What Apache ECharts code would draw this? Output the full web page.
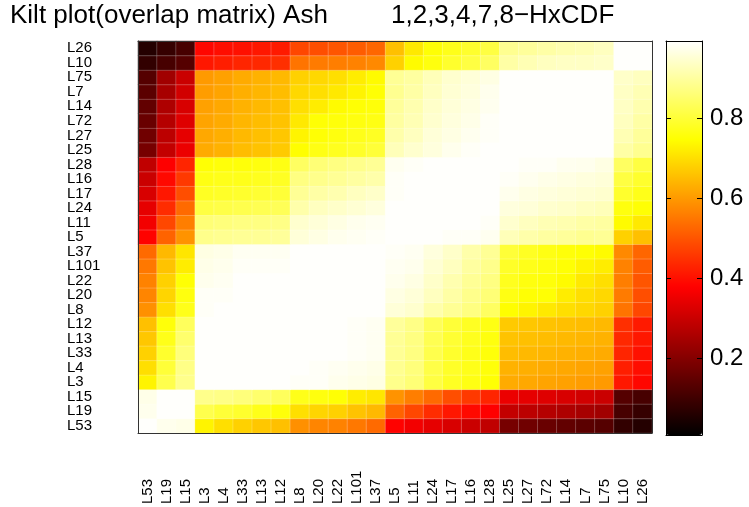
<!DOCTYPE html>
<html>
<head>
<meta charset="utf-8">
<script src="https://cdn.jsdelivr.net/npm/echarts@6/dist/echarts.min.js"></script>
<style>
    html, body { margin: 0; padding: 0; background: #fff; }
    #kilt { width: 749px; height: 507px; }
</style>
</head>
<body>
<div id="kilt"></div>
<script>
// order of the matrix rows/cols (x left->right, y bottom->top)
var labels = ['L53','L19','L15','L3','L4','L33','L13','L12','L8','L20','L22','L101','L37',
    'L5','L11','L24','L17','L16','L28','L25','L27','L72','L14','L7','L75','L10','L26'];

// overlap matrix, overlap[i][j] -> row labels[i], column labels[j]
var overlap = [
    [0.99,0.975,0.97, 0.73,0.70,0.68,0.665,0.655,0.585,0.57,0.565,0.55,0.53, 0.38,0.36,0.34,0.32,0.30,0.285, 0.18,0.17,0.16,0.15,0.14,0.13, 0.08,0.06],
    [0.975,0.99,0.99, 0.82,0.80,0.79,0.77,0.755,0.70,0.685,0.68,0.66,0.645, 0.52,0.48,0.44,0.41,0.39,0.375, 0.29,0.28,0.27,0.26,0.25,0.24, 0.11,0.085],
    [0.97,0.99,0.99, 0.88,0.875,0.865,0.85,0.835,0.77,0.76,0.75,0.72,0.71, 0.59,0.56,0.53,0.49,0.46,0.43, 0.35,0.34,0.33,0.32,0.31,0.30, 0.13,0.11],
    [0.73,0.82,0.88, 0.99,0.99,0.99,0.99,0.99,0.985,0.985,0.975,0.97,0.965, 0.88,0.86,0.81,0.78,0.765,0.75, 0.625,0.62,0.615,0.61,0.605,0.60, 0.41,0.385],
    [0.70,0.80,0.875, 0.99,0.99,0.99,0.99,0.99,0.99,0.985,0.98,0.975,0.97, 0.885,0.865,0.815,0.785,0.77,0.755, 0.635,0.63,0.625,0.62,0.615,0.61, 0.42,0.395],
    [0.68,0.79,0.865, 0.99,0.99,0.99,0.99,0.99,0.99,0.99,0.99,0.985,0.98, 0.89,0.87,0.82,0.79,0.77,0.755, 0.65,0.645,0.64,0.635,0.63,0.625, 0.43,0.40],
    [0.665,0.77,0.85, 0.99,0.99,0.99,0.99,0.99,0.99,0.99,0.99,0.985,0.98, 0.89,0.87,0.825,0.795,0.775,0.76, 0.66,0.655,0.65,0.645,0.64,0.635, 0.435,0.41],
    [0.655,0.755,0.835, 0.99,0.99,0.99,0.99,0.99,0.99,0.99,0.99,0.985,0.98, 0.895,0.875,0.83,0.80,0.78,0.765, 0.67,0.665,0.66,0.655,0.65,0.645, 0.445,0.415],
    [0.585,0.70,0.77, 0.985,0.99,0.99,0.99,0.99,0.99,0.99,0.99,0.99,0.99, 0.955,0.945,0.91,0.89,0.87,0.84, 0.745,0.73,0.715,0.70,0.69,0.68, 0.545,0.48],
    [0.57,0.685,0.76, 0.985,0.985,0.99,0.99,0.99,0.99,0.99,0.99,0.99,0.99, 0.965,0.955,0.93,0.905,0.88,0.86, 0.765,0.75,0.75,0.72,0.70,0.69, 0.555,0.49],
    [0.565,0.68,0.75, 0.975,0.98,0.99,0.99,0.99,0.99,0.99,0.99,0.99,0.99, 0.975,0.965,0.94,0.915,0.89,0.87, 0.775,0.76,0.755,0.74,0.715,0.70, 0.56,0.50],
    [0.55,0.66,0.72, 0.97,0.975,0.985,0.985,0.985,0.99,0.99,0.99,0.99,0.99, 0.98,0.975,0.95,0.93,0.90,0.88, 0.785,0.77,0.76,0.75,0.73,0.72, 0.565,0.51],
    [0.53,0.645,0.71, 0.965,0.97,0.98,0.98,0.98,0.99,0.99,0.99,0.99,0.99, 0.985,0.98,0.96,0.94,0.91,0.89, 0.80,0.78,0.765,0.755,0.75,0.74, 0.575,0.525],
    [0.38,0.52,0.59, 0.88,0.885,0.89,0.89,0.895,0.955,0.965,0.975,0.98,0.985, 0.99,0.99,0.99,0.985,0.985,0.978, 0.925,0.91,0.90,0.895,0.885,0.89, 0.68,0.655],
    [0.36,0.48,0.56, 0.86,0.865,0.87,0.87,0.875,0.945,0.955,0.965,0.975,0.98, 0.99,0.99,0.99,0.99,0.99,0.985, 0.945,0.93,0.92,0.915,0.905,0.90, 0.74,0.715],
    [0.34,0.44,0.53, 0.81,0.815,0.82,0.825,0.83,0.91,0.93,0.94,0.95,0.96, 0.99,0.99,0.99,0.99,0.99,0.99, 0.96,0.955,0.945,0.94,0.93,0.925, 0.76,0.75],
    [0.32,0.41,0.49, 0.78,0.785,0.79,0.795,0.80,0.89,0.905,0.915,0.93,0.94, 0.985,0.99,0.99,0.99,0.99,0.99, 0.975,0.965,0.96,0.955,0.95,0.945, 0.79,0.77],
    [0.30,0.39,0.46, 0.765,0.77,0.77,0.775,0.78,0.87,0.88,0.89,0.90,0.91, 0.985,0.99,0.99,0.99,0.99,0.99, 0.985,0.977,0.97,0.965,0.96,0.955, 0.81,0.79],
    [0.285,0.375,0.43, 0.75,0.755,0.755,0.76,0.765,0.84,0.86,0.87,0.88,0.89, 0.978,0.985,0.99,0.99,0.99,0.99, 0.99,0.985,0.985,0.977,0.975,0.965, 0.84,0.81],
    [0.18,0.29,0.35, 0.625,0.635,0.65,0.66,0.67,0.745,0.765,0.775,0.785,0.80, 0.925,0.945,0.96,0.975,0.985,0.99, 0.99,0.99,0.99,0.99,0.99,0.99, 0.905,0.885],
    [0.17,0.28,0.34, 0.62,0.63,0.645,0.655,0.665,0.73,0.75,0.76,0.77,0.78, 0.91,0.93,0.955,0.965,0.977,0.985, 0.99,0.99,0.99,0.99,0.99,0.99, 0.92,0.895],
    [0.16,0.27,0.33, 0.615,0.625,0.64,0.65,0.66,0.715,0.75,0.755,0.76,0.765, 0.90,0.92,0.945,0.96,0.97,0.985, 0.99,0.99,0.99,0.99,0.99,0.99, 0.93,0.905],
    [0.15,0.26,0.32, 0.61,0.62,0.635,0.645,0.655,0.70,0.72,0.74,0.75,0.755, 0.895,0.915,0.94,0.955,0.965,0.977, 0.99,0.99,0.99,0.99,0.99,0.99, 0.935,0.915],
    [0.14,0.25,0.31, 0.605,0.615,0.63,0.64,0.65,0.69,0.70,0.715,0.73,0.75, 0.885,0.905,0.93,0.95,0.96,0.975, 0.99,0.99,0.99,0.99,0.99,0.99, 0.935,0.92],
    [0.13,0.24,0.30, 0.60,0.61,0.625,0.635,0.645,0.68,0.69,0.70,0.72,0.74, 0.89,0.90,0.925,0.945,0.955,0.965, 0.99,0.99,0.99,0.99,0.99,0.99, 0.94,0.93],
    [0.08,0.11,0.13, 0.41,0.42,0.43,0.435,0.445,0.545,0.555,0.56,0.565,0.575, 0.68,0.74,0.76,0.79,0.81,0.84, 0.905,0.92,0.93,0.935,0.935,0.94, 0.99,0.99],
    [0.06,0.085,0.11, 0.385,0.395,0.40,0.41,0.415,0.48,0.49,0.50,0.51,0.525, 0.655,0.715,0.75,0.77,0.79,0.81, 0.885,0.895,0.905,0.915,0.92,0.93, 0.99,0.99]
];

// colour scale range and colorbar ticks
var scaleMin = 0.0075;
var scaleMax = 0.9925;
var colorbarTicks = [0.2, 0.4, 0.6, 0.8];

var font = "'Liberation Sans', Arial, Helvetica, sans-serif";

window.onload = function () {
    kiltChart();
};

function kiltChart() {
    var chart = echarts.init(document.getElementById('kilt'), null, {renderer: 'canvas'});

    var cells = [];
    for (var i = 0; i < overlap.length; i++) {
        for (var j = 0; j < overlap[i].length; j++) {
            cells.push([j, i, overlap[i][j]]);
        }
    }

    // matlab "hot" colormap
    var hot = ['#000000', '#550000', '#aa0000', '#ff0000', '#ff5500', '#ffaa00', '#ffff00', '#ffff80', '#ffffff'];

    var edge = {show: true, onZero: false, lineStyle: {color: '#333', width: 1}};
    var barEdge = {show: true, onZero: false, lineStyle: {color: '#000', width: 1}};

    var option = {
        backgroundColor: '#fff',
        animation: false,
        title: [{
            text: 'Kilt plot(overlap matrix) Ash',
            left: 10,
            top: 3,
            padding: 0,
            textStyle: {fontSize: 26, fontWeight: 'normal', color: '#000', fontFamily: font}
        }, {
            text: '1,2,3,4,7,8\u2212HxCDF',
            left: 391,
            top: 3,
            padding: 0,
            textStyle: {fontSize: 26, fontWeight: 'normal', color: '#000', fontFamily: font}
        }],
        grid: [
            {left: 138, top: 41, width: 514, height: 393},
            {left: 666, top: 41, width: 36, height: 394}
        ],
        xAxis: [{
            gridIndex: 0,
            type: 'category',
            data: labels,
            position: 'bottom',
            z: 5,
            axisLine: edge,
            axisTick: {show: false},
            splitLine: {show: false},
            axisLabel: {
                interval: 0,
                rotate: 90,
                align: 'left',
                margin: 71,
                fontSize: 15,
                color: '#000',
                fontFamily: font
            }
        }, {
            gridIndex: 0,
            type: 'category',
            data: labels,
            position: 'top',
            z: 5,
            axisLine: edge,
            axisTick: {show: false},
            axisLabel: {show: false}
        }, {
            gridIndex: 1,
            type: 'value',
            min: 0,
            max: 1,
            position: 'bottom',
            z: 10,
            axisLine: barEdge,
            axisTick: {show: false},
            axisLabel: {show: false},
            splitLine: {show: false}
        }, {
            gridIndex: 1,
            type: 'value',
            min: 0,
            max: 1,
            position: 'top',
            z: 10,
            axisLine: barEdge,
            axisTick: {show: false},
            axisLabel: {show: false},
            splitLine: {show: false}
        }],
        yAxis: [{
            gridIndex: 0,
            type: 'category',
            data: labels,
            position: 'left',
            z: 5,
            axisLine: edge,
            axisTick: {show: false},
            splitLine: {show: false},
            axisLabel: {
                interval: 0,
                align: 'left',
                margin: 71,
                fontSize: 15,
                color: '#000',
                fontFamily: font
            }
        }, {
            gridIndex: 0,
            type: 'category',
            data: labels,
            position: 'right',
            z: 5,
            axisLine: edge,
            axisTick: {show: false},
            axisLabel: {show: false}
        }, {
            gridIndex: 1,
            type: 'value',
            min: scaleMin,
            max: scaleMax,
            position: 'right',
            z: 10,
            axisLine: barEdge,
            splitLine: {show: false},
            axisTick: {inside: true, length: 5, customValues: colorbarTicks, lineStyle: {color: '#000'}},
            axisLabel: {
                customValues: colorbarTicks,
                margin: 8,
                fontSize: 24,
                color: '#000',
                fontFamily: font
            }
        }, {
            gridIndex: 1,
            type: 'value',
            min: scaleMin,
            max: scaleMax,
            position: 'left',
            z: 10,
            axisLine: barEdge,
            splitLine: {show: false},
            axisTick: {inside: true, length: 5, customValues: colorbarTicks, lineStyle: {color: '#000'}},
            axisLabel: {show: false}
        }],
        visualMap: {
            type: 'continuous',
            seriesIndex: 0,
            min: scaleMin,
            max: scaleMax,
            calculable: false,
            hoverLink: false,
            orient: 'vertical',
            left: 666,
            top: 41,
            padding: 0,
            itemWidth: 36,
            itemHeight: 394,
            inRange: {color: hot}
        },
        series: [{
            type: 'heatmap',
            xAxisIndex: 0,
            yAxisIndex: 0,
            data: cells,
            itemStyle: {
                borderColor: 'rgba(255,255,255,0.28)',
                borderWidth: 0.8
            },
            emphasis: {disabled: true}
        }]
    };

    chart.setOption(option);
}
</script>
</body>
</html>
